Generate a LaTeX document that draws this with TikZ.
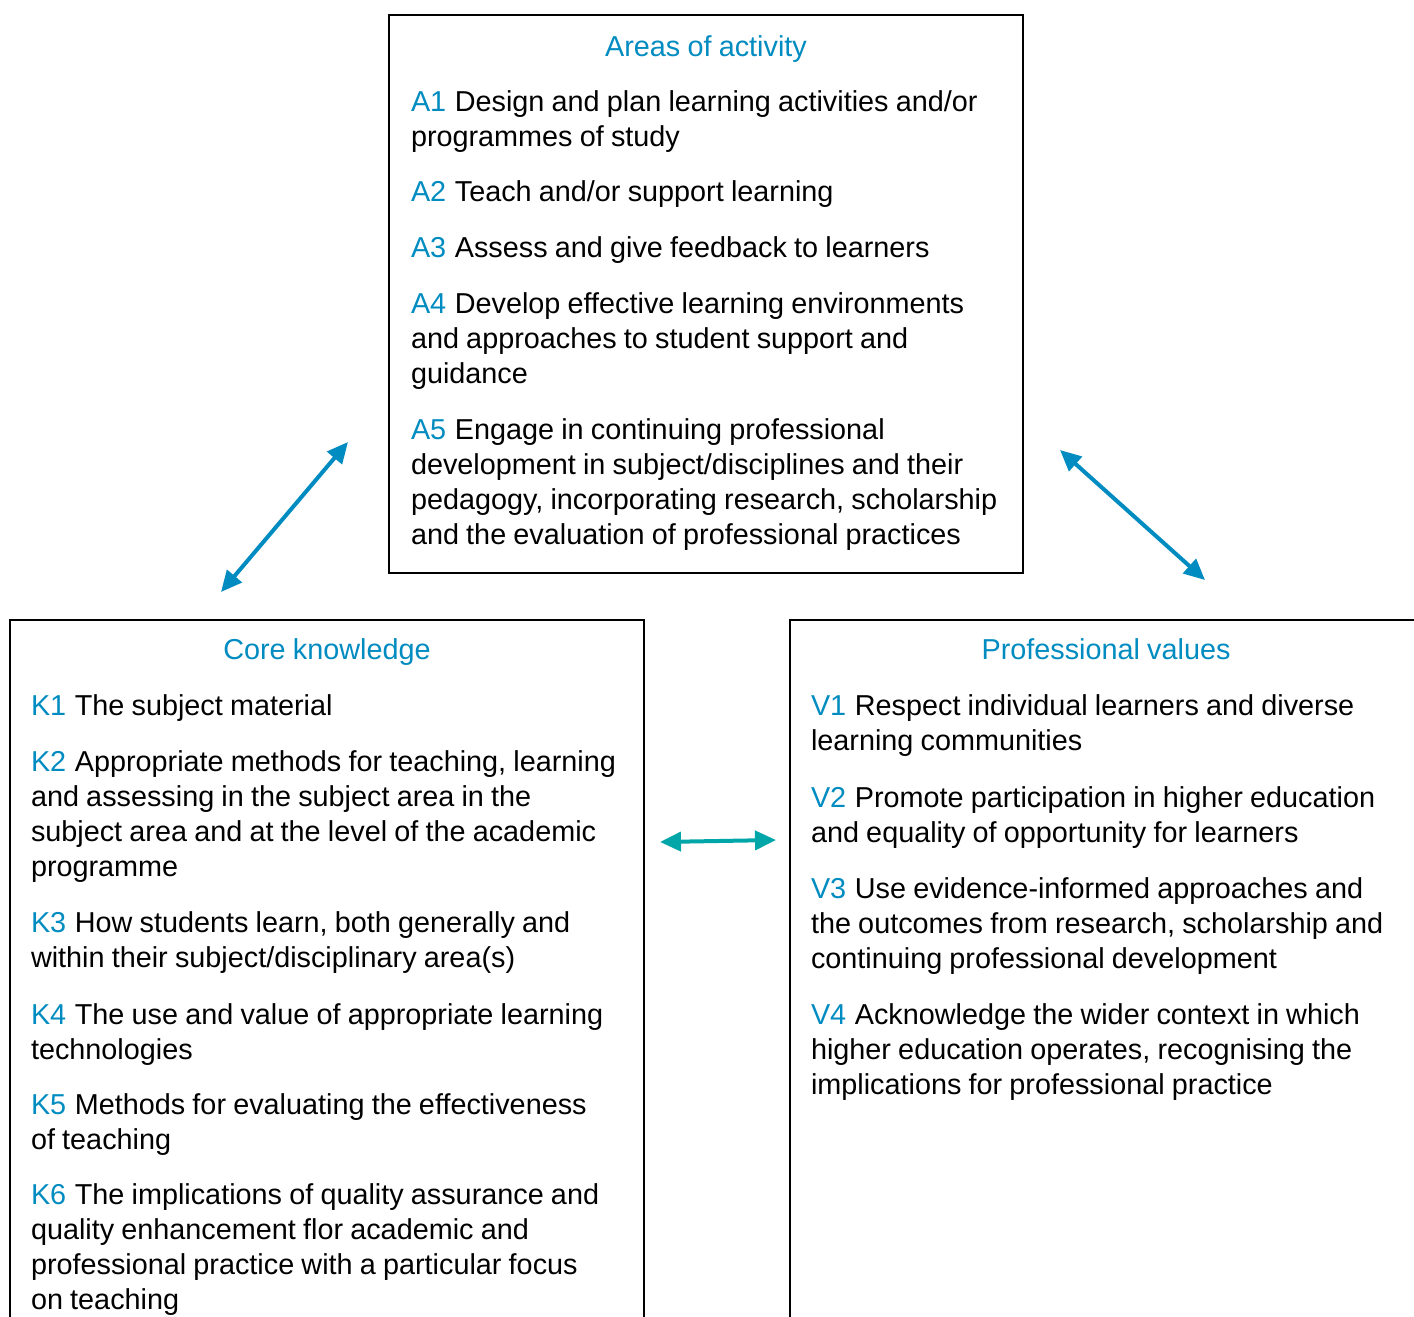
\documentclass[tikz,border=0pt]{standalone}
\usepackage{fontspec}
\setmainfont{Liberation Sans}
\usetikzlibrary{arrows.meta}
\definecolor{hblue}{RGB}{0,140,192}
\definecolor{hteal}{RGB}{0,166,168}
\newcommand\lbl[1]{\textcolor{hblue}{#1}\hspace{0.3em}}
\newcommand\lns[1]{\vtop{\halign{##\hfil\cr #1\cr}}}
\newcommand\diagfont{\fontsize{28.8}{35}\selectfont\spaceskip=7.2pt plus 2pt minus 1pt\relax}
\begin{document}
\begin{tikzpicture}[x=1pt,y=-1pt,
  every node/.style={inner sep=0pt,outer sep=0pt,font=\diagfont},
  item/.style={anchor=base west},
  ttl/.style={anchor=base,text=hblue},
  boxline/.style={draw=black,line width=2pt},
  dbl/.style={line width=4pt,{Triangle[length=21pt,width=19pt]}-{Triangle[length=21pt,width=19pt]}}]
\clip (0,0) rectangle (1414,1317);
\fill[white] (0,0) rectangle (1414,1317);
% boxes
\draw[boxline] (389,15) rectangle (1023,573);
\draw[boxline] (10,620) rectangle (644,1345);
\draw[boxline] (790,620) rectangle (1424,1345);
% top box
\node[ttl] (ta) at (706,56) {Areas of activity};
\node[item] (a1) at (411,111) {\lns{\lbl{A1}Design and plan learning activities and/or\cr programmes of study}};
\node[item] (a2) at (411,201) {\lbl{A2}Teach and/or support learning};
\node[item] (a3) at (411,257) {\lbl{A3}Assess and give feedback to learners};
\node[item] (a4) at (411,313) {\lns{\lbl{A4}Develop effective learning environments\cr and approaches to student support and\cr guidance}};
\node[item] (a5) at (411,439) {\lns{\lbl{A5}Engage in continuing professional\cr development in subject/disciplines and their\cr pedagogy, incorporating research, scholarship\cr and the evaluation of professional practices}};
% left box
\node[ttl] (tk) at (327,659) {Core knowledge};
\node[item] (k1) at (31,715) {\lbl{K1}The subject material};
\node[item] (k2) at (31,771) {\lns{\lbl{K2}Appropriate methods for teaching, learning\cr and assessing in the subject area in the\cr subject area and at the level of the academic\cr programme}};
\node[item] (k3) at (31,932) {\lns{\lbl{K3}How students learn, both generally and\cr within their subject/disciplinary area(s)}};
\node[item] (k4) at (31,1024) {\lns{\lbl{K4}The use and value of appropriate learning\cr technologies}};
\node[item] (k5) at (31,1114) {\lns{\lbl{K5}Methods for evaluating the effectiveness\cr of teaching}};
\node[item] (k6) at (31,1204) {\lns{\lbl{K6}The implications of quality assurance and\cr quality enhancement flor academic and\cr professional practice with a particular focus\cr on teaching}};
% right box
\node[ttl] (tv) at (1106,659) {Professional values};
\node[item] (v1) at (811,715) {\lns{\lbl{V1}Respect individual learners and diverse\cr learning communities}};
\node[item] (v2) at (811,807) {\lns{\lbl{V2}Promote participation in higher education\cr and equality of opportunity for learners}};
\node[item] (v3) at (811,898) {\lns{\lbl{V3}Use evidence-informed approaches and\cr the outcomes from research, scholarship and\cr continuing professional development}};
\node[item] (v4) at (811,1024) {\lns{\lbl{V4}Acknowledge the wider context in which\cr higher education operates, recognising the\cr implications for professional practice}};
% arrows
\coordinate (l1) at (221,592);
\coordinate (l2) at (348,442);
\coordinate (r1) at (1060,450);
\coordinate (r2) at (1205,580);
\coordinate (h1) at (660,842);
\coordinate (h2) at (776,840);
\draw[dbl,hblue] (l1) -- (l2);
\draw[dbl,hblue] (r1) -- (r2);
\draw[dbl,hteal] (h1) -- (h2);
\end{tikzpicture}
\end{document}
